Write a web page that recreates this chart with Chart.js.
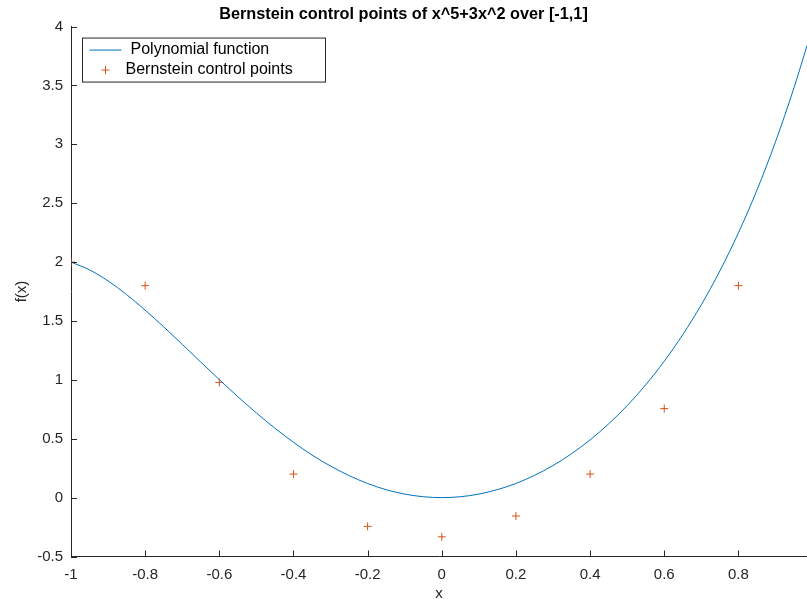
<!DOCTYPE html>
<html>
<head>
<meta charset="utf-8">
<script src="https://cdn.jsdelivr.net/npm/chart.js@4.4.0/dist/chart.umd.min.js"></script>
<style>
  html, body { margin: 0; padding: 0; background: #fff; }
  #wrap { width: 807px; height: 599px; }
</style>
</head>
<body>
<div id="wrap"><canvas id="bern"></canvas></div>
<script>
// ===== data =====
const curveX = [-1, -0.95, -0.9, -0.85, -0.8, -0.75, -0.7, -0.65, -0.6, -0.55, -0.5,
  -0.45, -0.4, -0.35, -0.3, -0.25, -0.2, -0.15, -0.1, -0.05, 0,
  0.05, 0.1, 0.15, 0.2, 0.25, 0.3, 0.35, 0.4, 0.45, 0.5,
  0.55, 0.6, 0.65, 0.7, 0.75, 0.8, 0.85, 0.9, 0.95, 0.985];
const curveY = [2.0, 1.934, 1.840, 1.724, 1.592, 1.450, 1.302, 1.151, 1.002, 0.857, 0.719,
  0.589, 0.470, 0.362, 0.268, 0.187, 0.120, 0.067, 0.030, 0.0075, 0,
  0.0075, 0.030, 0.068, 0.120, 0.189, 0.272, 0.373, 0.490, 0.626, 0.781,
  0.958, 1.158, 1.384, 1.638, 1.925, 2.248, 2.611, 3.021, 3.481, 3.838];

const ctrlX = [-1, -0.8, -0.6, -0.4, -0.2, 0, 0.2, 0.4, 0.6, 0.8];
const ctrlY = [2.0, 1.8, 0.978, 0.2, -0.244, -0.333, -0.156, 0.2, 0.756, 1.8];

const xTicks = [-1, -0.8, -0.6, -0.4, -0.2, 0, 0.2, 0.4, 0.6, 0.8];
const yTicks = [-0.5, 0, 0.5, 1, 1.5, 2, 2.5, 3, 3.5, 4];

const lineColor = "#0072BD";
const markColor = "#D95319";
const axisColor = "#262626";
const fontFam = "'Liberation Sans', Arial, Helvetica, sans-serif";

function fmtTick(v) {
  return String(+v.toFixed(2));
}

// inward tick marks + legend box inside axes (MATLAB look)
const matlabBits = {
  id: "matlabBits",
  afterDraw(chart) {
    const ctx = chart.ctx;
    const area = chart.chartArea;
    const xs = chart.scales.x, ys = chart.scales.y;
    ctx.save();
    ctx.strokeStyle = axisColor;
    ctx.lineWidth = 1;
    ctx.beginPath();
    xs.ticks.forEach(t => {
      const px = Math.round(xs.getPixelForValue(t.value)) + 0.5;
      ctx.moveTo(px, area.bottom);
      ctx.lineTo(px, area.bottom - 6);
    });
    ys.ticks.forEach(t => {
      const py = Math.round(ys.getPixelForValue(t.value)) + 0.5;
      ctx.moveTo(area.left, py);
      ctx.lineTo(area.left + 6, py);
    });
    ctx.stroke();

    // legend
    const ds = chart.data.datasets;
    const bx = area.left + 11.5, by = area.top + 11.5, bw = 243, bh = 44;
    ctx.fillStyle = "#fff";
    ctx.fillRect(bx, by, bw, bh);
    ctx.strokeStyle = axisColor;
    ctx.strokeRect(bx, by, bw, bh);

    ctx.font = "16px " + fontFam;
    ctx.textBaseline = "middle";
    ctx.fillStyle = "#000";
    // row 1: line sample
    ctx.strokeStyle = lineColor;
    ctx.beginPath();
    ctx.moveTo(bx + 7, by + 12);
    ctx.lineTo(bx + 39, by + 12);
    ctx.stroke();
    ctx.fillText(ds[0].label, bx + 48, by + 12);
    // row 2: cross marker
    ctx.strokeStyle = markColor;
    ctx.beginPath();
    const mx = bx + 23, my = by + 32;
    ctx.moveTo(mx - 4, my); ctx.lineTo(mx + 4, my);
    ctx.moveTo(mx, my - 4); ctx.lineTo(mx, my + 4);
    ctx.stroke();
    ctx.fillText(ds[1].label, bx + 43, by + 32);
    ctx.restore();
  }
};

new Chart(document.getElementById("bern"), {
  type: "scatter",
  data: {
    datasets: [
      {
        label: "Polynomial function",
        data: curveX.map((x, i) => ({ x: x, y: curveY[i] })),
        showLine: true,
        borderColor: lineColor,
        borderWidth: 1,
        pointRadius: 0,
        cubicInterpolationMode: "monotone",
        fill: false
      },
      {
        label: "Bernstein control points",
        data: ctrlX.map((x, i) => ({ x: x, y: ctrlY[i] })),
        showLine: false,
        pointStyle: "cross",
        pointRadius: 4,
        pointBorderWidth: 1,
        borderColor: markColor,
        backgroundColor: markColor
      }
    ]
  },
  plugins: [matlabBits],
  options: {
    responsive: true,
    maintainAspectRatio: false,
    animation: false,
    layout: { autoPadding: false, padding: { left: 0, right: 0, top: 0, bottom: 0 } },
    plugins: {
      legend: { display: false },
      tooltip: { enabled: false },
      title: {
        display: true,
        text: "Bernstein control points of x^5+3x^2 over [-1,1]",
        color: "#000",
        font: { family: fontFam, size: 16.3, weight: "bold", lineHeight: 1.2 },
        padding: { top: 5, bottom: 2 }
      }
    },
    scales: {
      x: {
        type: "linear",
        min: -1,
        max: 0.985,
        afterBuildTicks: s => { s.ticks = xTicks.map(v => ({ value: v })); },
        afterFit: s => { s.height = 42.5; s.paddingRight = 0; s.paddingLeft = 0; },
        grid: { display: false, drawTicks: false },
        border: { display: true, color: axisColor, width: 1 },
        ticks: {
          color: axisColor,
          padding: 9,
          maxRotation: 0,
          autoSkip: false,
          font: { family: fontFam, size: 15 },
          callback: v => fmtTick(v)
        },
        title: {
          display: true,
          text: "x",
          color: axisColor,
          font: { family: fontFam, size: 15, lineHeight: 0.7 },
          padding: { top: 0, bottom: 0 }
        }
      },
      y: {
        type: "linear",
        min: -0.5,
        max: 4,
        afterBuildTicks: s => { s.ticks = yTicks.map(v => ({ value: v })); },
        afterFit: s => { s.width = 71; },
        grid: { display: false, drawTicks: false },
        border: { display: true, color: axisColor, width: 1 },
        ticks: {
          color: axisColor,
          padding: 8,
          autoSkip: false,
          font: { family: fontFam, size: 15 },
          callback: v => fmtTick(v)
        },
        title: {
          display: true,
          text: "f(x)",
          color: axisColor,
          font: { family: fontFam, size: 15, lineHeight: 1.2 },
          padding: { top: 13, bottom: 0 }
        }
      }
    }
  }
});
</script>
</body>
</html>
